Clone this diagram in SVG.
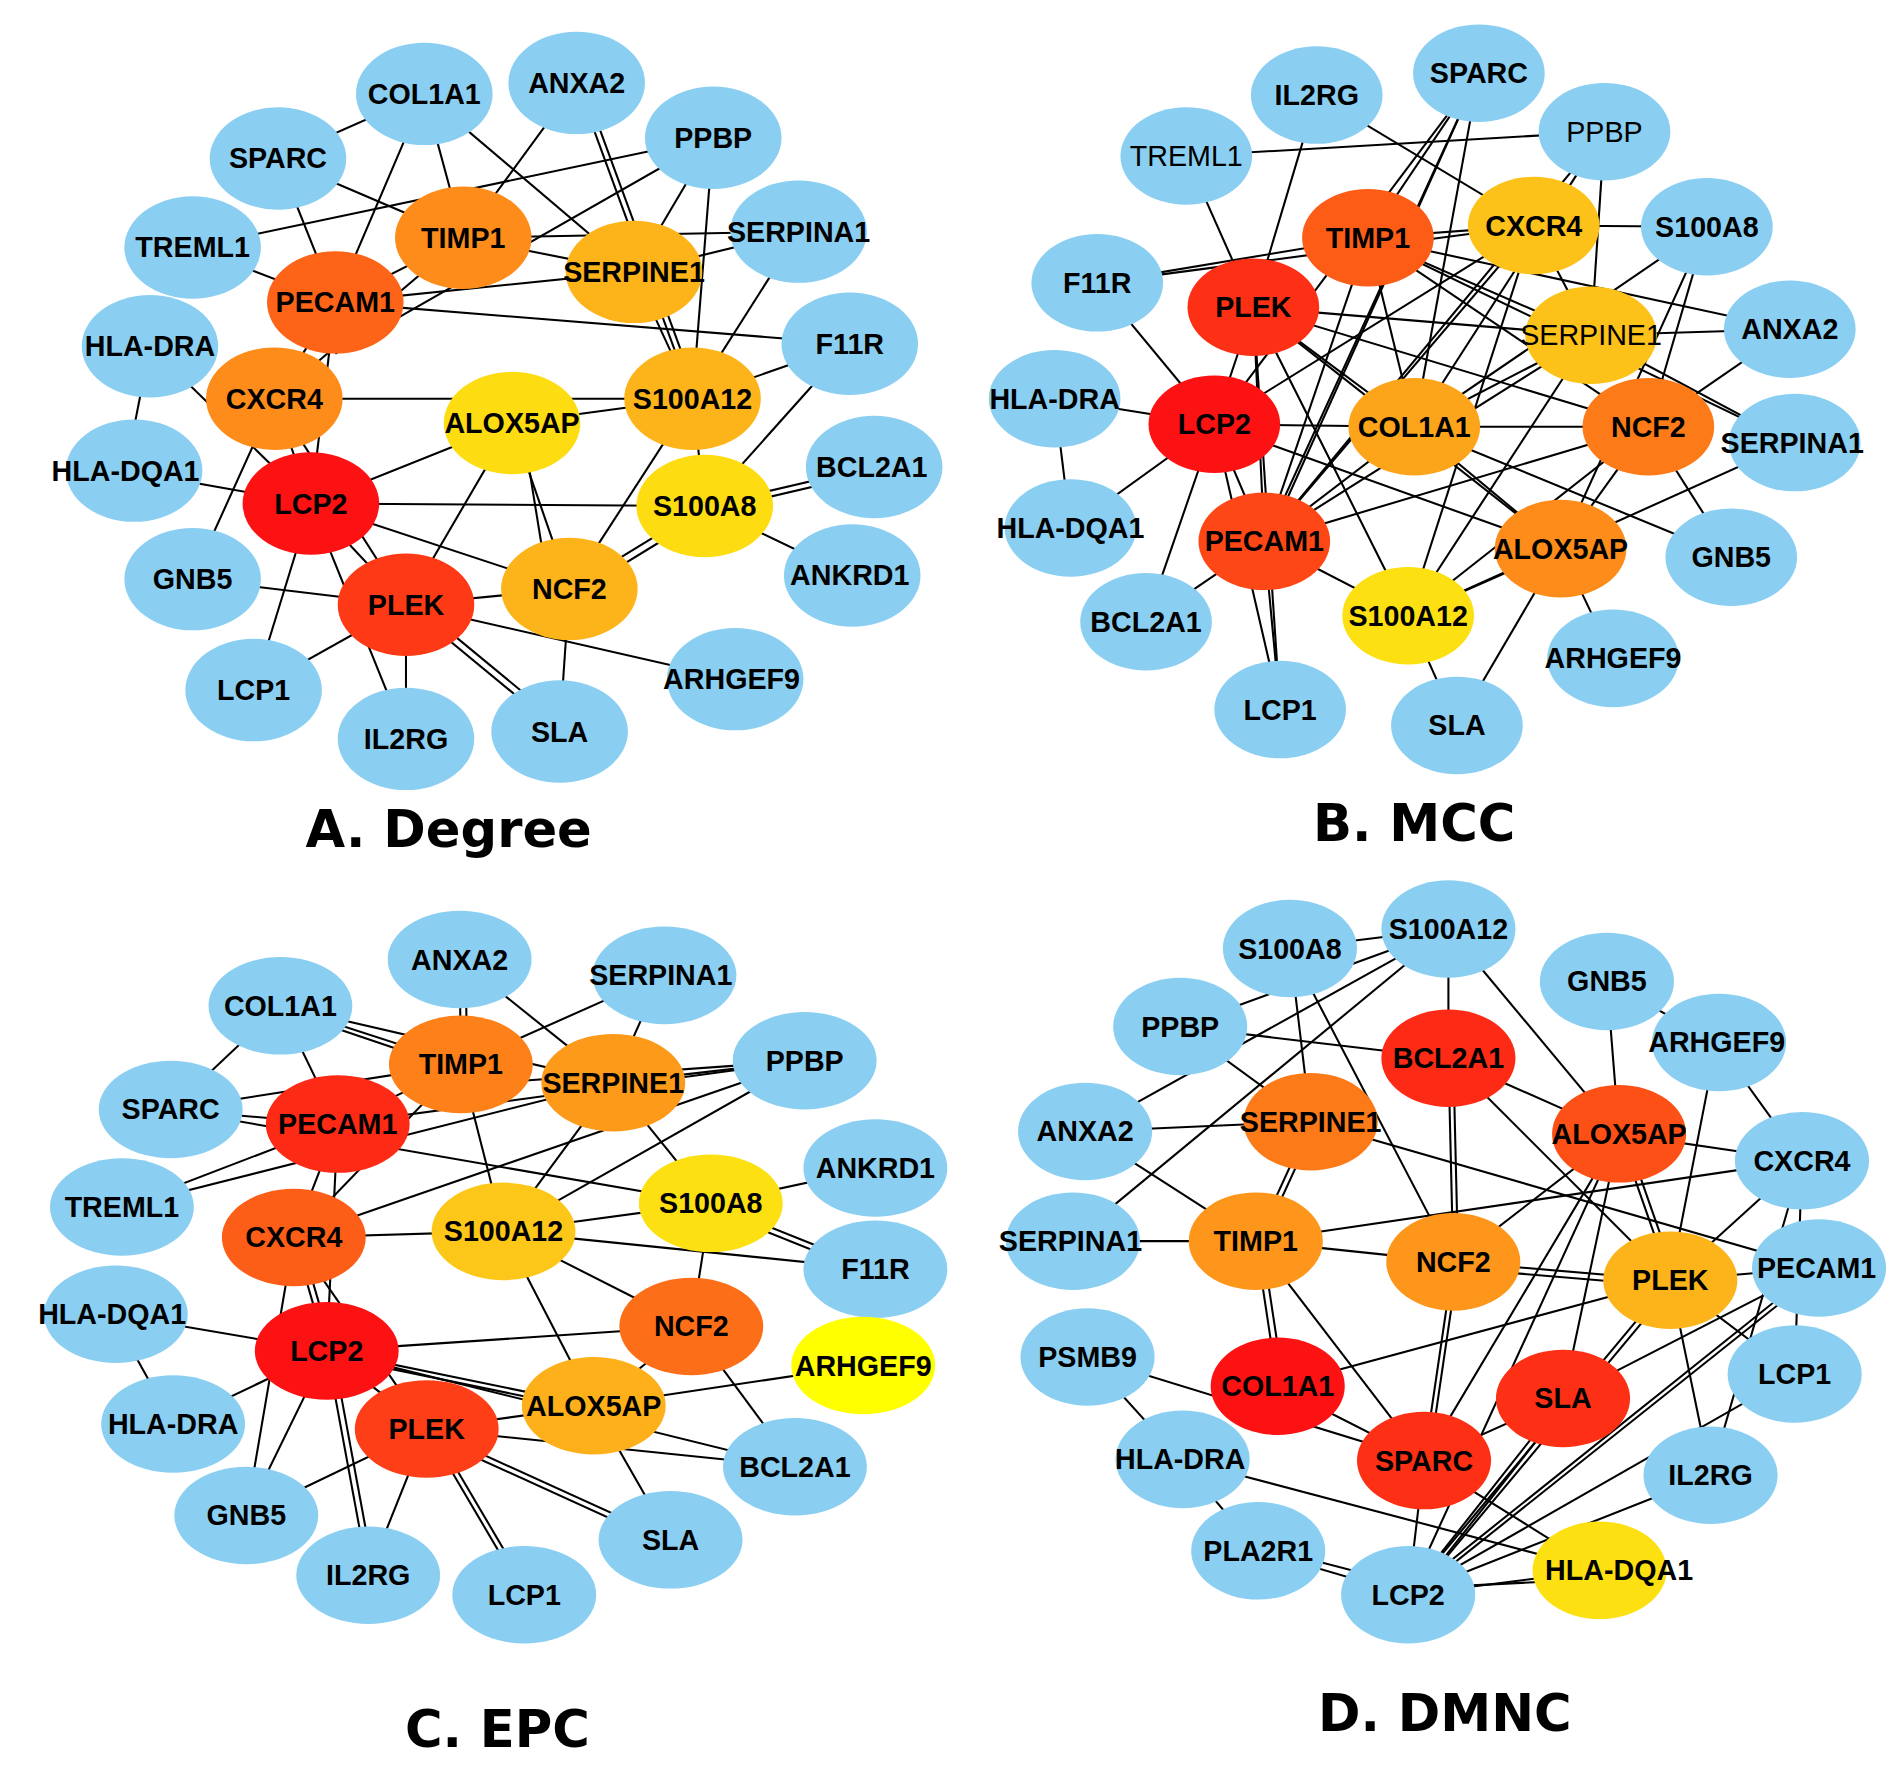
<svg xmlns="http://www.w3.org/2000/svg" width="1902" height="1765" viewBox="0 0 1902 1765">
<style>
.e line{stroke:#000;stroke-width:1.7}
ellipse{stroke:none}
.b{fill:#8acff2}
text{font-family:"Liberation Sans",Arial,sans-serif;font-weight:bold;font-size:23.5px;text-anchor:middle;dominant-baseline:central;fill:#000}
text.n{font-weight:normal}
text.t{font-family:"DejaVu Sans",sans-serif;font-size:42px}
</style>
<rect width="1902" height="1765" fill="#fff"/>
<g transform="scale(1.2192)">
<!-- Panel A edges -->
<g id="edgesA" class="e">
<line x1="228" y1="130" x2="348" y2="77"/><line x1="228" y1="130" x2="380" y2="195"/><line x1="228" y1="130" x2="275" y2="248"/>
<line x1="348" y1="77" x2="275" y2="248"/><line x1="348" y1="77" x2="380" y2="195"/><line x1="348" y1="77" x2="520" y2="223"/>
<line x1="473" y1="68" x2="380" y2="195"/><line x1="473" y1="68" x2="568" y2="327"/><line x1="478" y1="68" x2="573" y2="327"/>
<line x1="585" y1="113" x2="158" y2="203"/><line x1="585" y1="113" x2="275" y2="290"/><line x1="585" y1="113" x2="520" y2="223"/><line x1="585" y1="113" x2="568" y2="327"/>
<line x1="158" y1="203" x2="275" y2="248"/><line x1="380" y1="195" x2="520" y2="223"/><line x1="380" y1="195" x2="655" y2="190"/>
<line x1="275" y1="248" x2="520" y2="223"/><line x1="275" y1="248" x2="697" y2="282"/><line x1="275" y1="248" x2="380" y2="195"/>
<line x1="225" y1="327" x2="275" y2="248"/><line x1="225" y1="327" x2="380" y2="195"/><line x1="225" y1="327" x2="568" y2="327"/>
<line x1="123" y1="284" x2="103" y2="386"/><line x1="123" y1="284" x2="255" y2="413"/><line x1="103" y1="386" x2="255" y2="413"/>
<line x1="225" y1="327" x2="255" y2="413"/><line x1="225" y1="327" x2="333" y2="496"/><line x1="225" y1="327" x2="158" y2="475"/><line x1="275" y1="248" x2="255" y2="413"/>
<line x1="255" y1="413" x2="420" y2="347"/><line x1="255" y1="413" x2="578" y2="415"/><line x1="255" y1="413" x2="467" y2="483"/><line x1="255" y1="413" x2="333" y2="496"/>
<line x1="255" y1="413" x2="208" y2="566"/><line x1="255" y1="413" x2="333" y2="606"/><line x1="158" y1="475" x2="333" y2="496"/>
<line x1="333" y1="496" x2="467" y2="483"/><line x1="333" y1="496" x2="420" y2="347"/><line x1="333" y1="496" x2="208" y2="566"/><line x1="333" y1="496" x2="333" y2="606"/>
<line x1="333" y1="496" x2="459" y2="600"/><line x1="337" y1="492" x2="463" y2="596"/><line x1="333" y1="496" x2="600" y2="557"/>
<line x1="420" y1="347" x2="568" y2="327"/><line x1="420" y1="347" x2="467" y2="483"/><line x1="428" y1="347" x2="450" y2="483"/><line x1="467" y1="483" x2="459" y2="600"/>
<line x1="467" y1="483" x2="578" y2="415"/><line x1="467" y1="490" x2="578" y2="422"/><line x1="467" y1="483" x2="568" y2="327"/>
<line x1="578" y1="415" x2="715" y2="383"/><line x1="578" y1="420" x2="715" y2="388"/><line x1="578" y1="415" x2="697" y2="472"/><line x1="578" y1="415" x2="697" y2="282"/>
<line x1="568" y1="327" x2="697" y2="282"/><line x1="568" y1="327" x2="520" y2="223"/><line x1="568" y1="327" x2="578" y2="415"/><line x1="655" y1="190" x2="568" y2="327"/><line x1="655" y1="190" x2="520" y2="223"/>
</g>
<g id="A_COL1A1"><ellipse class="b" cx="348" cy="77" rx="56" ry="42"/><text x="348" y="77">COL1A1</text></g>
<g id="A_ANXA2"><ellipse class="b" cx="473" cy="68" rx="56" ry="42"/><text x="473" y="68">ANXA2</text></g>
<g id="A_PPBP"><ellipse class="b" cx="585" cy="113" rx="56" ry="42"/><text x="585" y="113">PPBP</text></g>
<g id="A_SPARC"><ellipse class="b" cx="228" cy="130" rx="56" ry="42"/><text x="228" y="130">SPARC</text></g>
<g id="A_SERPINA1"><ellipse class="b" cx="655" cy="190" rx="56" ry="42"/><text x="655" y="190">SERPINA1</text></g>
<g id="A_TREML1"><ellipse class="b" cx="158" cy="203" rx="56" ry="42"/><text x="158" y="203">TREML1</text></g>
<g id="A_F11R"><ellipse class="b" cx="697" cy="282" rx="56" ry="42"/><text x="697" y="282">F11R</text></g>
<g id="A_HLA-DRA"><ellipse class="b" cx="123" cy="284" rx="56" ry="42"/><text x="123" y="284">HLA-DRA</text></g>
<g id="A_HLA-DQA1"><ellipse class="b" cx="110" cy="386" rx="56" ry="42"/><text x="103" y="386">HLA-DQA1</text></g>
<g id="A_BCL2A1"><ellipse class="b" cx="717" cy="383" rx="56" ry="42"/><text x="715" y="383">BCL2A1</text></g>
<g id="A_GNB5"><ellipse class="b" cx="158" cy="475" rx="56" ry="42"/><text x="158" y="475">GNB5</text></g>
<g id="A_ANKRD1"><ellipse class="b" cx="699" cy="472" rx="56" ry="42"/><text x="697" y="472">ANKRD1</text></g>
<g id="A_LCP1"><ellipse class="b" cx="208" cy="566" rx="56" ry="42"/><text x="208" y="566">LCP1</text></g>
<g id="A_ARHGEF9"><ellipse class="b" cx="603" cy="557" rx="56" ry="42"/><text x="600" y="557">ARHGEF9</text></g>
<g id="A_IL2RG"><ellipse class="b" cx="333" cy="606" rx="56" ry="42"/><text x="333" y="606">IL2RG</text></g>
<g id="A_SLA"><ellipse class="b" cx="459" cy="600" rx="56" ry="42"/><text x="459" y="600">SLA</text></g>
<g id="A_TIMP1"><ellipse fill="#fd8c1a" cx="380" cy="195" rx="56" ry="42"/><text x="380" y="195">TIMP1</text></g>
<g id="A_SERPINE1"><ellipse fill="#fdb31a" cx="520" cy="223" rx="56" ry="42"/><text x="520" y="223">SERPINE1</text></g>
<g id="A_PECAM1"><ellipse fill="#fd6418" cx="275" cy="248" rx="56" ry="42"/><text x="275" y="248">PECAM1</text></g>
<g id="A_CXCR4"><ellipse fill="#fd8c1a" cx="225" cy="327" rx="56" ry="42"/><text x="225" y="327">CXCR4</text></g>
<g id="A_S100A12"><ellipse fill="#fdb31a" cx="568" cy="327" rx="56" ry="42"/><text x="568" y="327">S100A12</text></g>
<g id="A_ALOX5AP"><ellipse fill="#fddc12" cx="420" cy="347" rx="56" ry="42"/><text x="420" y="347">ALOX5AP</text></g>
<g id="A_LCP2"><ellipse fill="#fd1214" cx="255" cy="413" rx="56" ry="42"/><text x="255" y="413">LCP2</text></g>
<g id="A_S100A8"><ellipse fill="#fddc12" cx="578" cy="415" rx="56" ry="42"/><text x="578" y="415">S100A8</text></g>
<g id="A_PLEK"><ellipse fill="#fd3a15" cx="333" cy="496" rx="56" ry="42"/><text x="333" y="496">PLEK</text></g>
<g id="A_NCF2"><ellipse fill="#fdb31a" cx="467" cy="483" rx="56" ry="42"/><text x="467" y="483">NCF2</text></g>
<text class="t" x="368" y="680">A. Degree</text>

<!-- Panel B -->
<g id="edgesB" class="e">
<line x1="1080" y1="78" x2="1258" y2="185"/><line x1="1080" y1="78" x2="1028" y2="252"/><line x1="973" y1="128" x2="1316" y2="108"/><line x1="973" y1="128" x2="1028" y2="252"/>
<line x1="1213" y1="60" x2="1122" y2="195"/><line x1="1213" y1="60" x2="1037" y2="444"/><line x1="1213" y1="60" x2="1160" y2="350"/><line x1="1213" y1="60" x2="1040" y2="444"/><line x1="1213" y1="60" x2="996" y2="348"/>
<line x1="1316" y1="108" x2="1037" y2="444"/><line x1="1316" y1="108" x2="1160" y2="350"/><line x1="1316" y1="108" x2="1305" y2="275"/>
<line x1="1122" y1="195" x2="1258" y2="185"/><line x1="1122" y1="195" x2="900" y2="232"/><line x1="1258" y1="185" x2="900" y2="232"/><line x1="1258" y1="185" x2="1400" y2="186"/>
<line x1="1258" y1="185" x2="1305" y2="275"/><line x1="1258" y1="185" x2="996" y2="348"/><line x1="1258" y1="185" x2="1037" y2="444"/><line x1="1258" y1="185" x2="1155" y2="505"/>
<line x1="1122" y1="195" x2="1305" y2="275"/><line x1="1122" y1="195" x2="1468" y2="270"/><line x1="1122" y1="195" x2="1352" y2="350"/><line x1="1122" y1="195" x2="1160" y2="350"/>
<line x1="1122" y1="195" x2="1037" y2="444"/><line x1="1122" y1="195" x2="1470" y2="363"/><line x1="900" y1="232" x2="996" y2="348"/>
<line x1="1028" y1="252" x2="996" y2="348"/><line x1="1028" y1="252" x2="1160" y2="350"/><line x1="1028" y1="252" x2="1352" y2="350"/><line x1="1028" y1="252" x2="1305" y2="275"/>
<line x1="1028" y1="252" x2="1280" y2="450"/><line x1="1028" y1="252" x2="1155" y2="505"/><line x1="1028" y1="252" x2="1037" y2="444"/><line x1="1028" y1="252" x2="1050" y2="582"/>
<line x1="865" y1="327" x2="996" y2="348"/><line x1="865" y1="327" x2="878" y2="433"/><line x1="878" y1="433" x2="996" y2="348"/>
<line x1="996" y1="348" x2="1160" y2="350"/><line x1="996" y1="348" x2="1037" y2="444"/><line x1="996" y1="348" x2="940" y2="510"/><line x1="996" y1="348" x2="1280" y2="450"/><line x1="996" y1="348" x2="1050" y2="582"/>
<line x1="1160" y1="350" x2="1352" y2="350"/><line x1="1160" y1="350" x2="1305" y2="275"/><line x1="1160" y1="350" x2="1037" y2="444"/><line x1="1160" y1="350" x2="1280" y2="450"/><line x1="1160" y1="350" x2="1420" y2="457"/>
<line x1="1305" y1="275" x2="1468" y2="270"/><line x1="1305" y1="275" x2="1155" y2="505"/><line x1="1305" y1="275" x2="1470" y2="363"/><line x1="1305" y1="275" x2="1037" y2="444"/>
<line x1="1400" y1="186" x2="1352" y2="350"/><line x1="1400" y1="186" x2="1280" y2="450"/><line x1="1400" y1="186" x2="1160" y2="350"/>
<line x1="1468" y1="270" x2="1352" y2="350"/><line x1="1352" y1="350" x2="1037" y2="444"/><line x1="1352" y1="350" x2="1420" y2="457"/><line x1="1352" y1="350" x2="1155" y2="505"/><line x1="1352" y1="350" x2="1280" y2="450"/>
<line x1="1470" y1="363" x2="1155" y2="505"/><line x1="1037" y1="444" x2="940" y2="510"/><line x1="1037" y1="444" x2="1155" y2="505"/><line x1="1037" y1="444" x2="1050" y2="582"/>
<line x1="1280" y1="450" x2="1155" y2="505"/><line x1="1280" y1="450" x2="1323" y2="540"/><line x1="1280" y1="450" x2="1195" y2="595"/><line x1="1155" y1="505" x2="1195" y2="595"/>
</g>
<g id="B_IL2RG"><ellipse class="b" cx="1080" cy="78" rx="54" ry="40"/><text x="1080" y="78">IL2RG</text></g>
<g id="B_SPARC"><ellipse class="b" cx="1213" cy="60" rx="54" ry="40"/><text x="1213" y="60">SPARC</text></g>
<g id="B_TREML1"><ellipse class="b" cx="973" cy="128" rx="54" ry="40"/><text class="n" x="973" y="128">TREML1</text></g>
<g id="B_PPBP"><ellipse class="b" cx="1316" cy="108" rx="54" ry="40"/><text class="n" x="1316" y="108">PPBP</text></g>
<g id="B_S100A8"><ellipse class="b" cx="1400" cy="186" rx="54" ry="40"/><text x="1400" y="186">S100A8</text></g>
<g id="B_F11R"><ellipse class="b" cx="900" cy="232" rx="54" ry="40"/><text x="900" y="232">F11R</text></g>
<g id="B_ANXA2"><ellipse class="b" cx="1468" cy="270" rx="54" ry="40"/><text x="1468" y="270">ANXA2</text></g>
<g id="B_HLA-DRA"><ellipse class="b" cx="865" cy="327" rx="54" ry="40"/><text x="865" y="327">HLA-DRA</text></g>
<g id="B_SERPINA1"><ellipse class="b" cx="1472" cy="363" rx="54" ry="40"/><text x="1470" y="363">SERPINA1</text></g>
<g id="B_HLA-DQA1"><ellipse class="b" cx="878" cy="433" rx="54" ry="40"/><text x="878" y="433">HLA-DQA1</text></g>
<g id="B_GNB5"><ellipse class="b" cx="1420" cy="457" rx="54" ry="40"/><text x="1420" y="457">GNB5</text></g>
<g id="B_BCL2A1"><ellipse class="b" cx="940" cy="510" rx="54" ry="40"/><text x="940" y="510">BCL2A1</text></g>
<g id="B_ARHGEF9"><ellipse class="b" cx="1323" cy="540" rx="54" ry="40"/><text x="1323" y="540">ARHGEF9</text></g>
<g id="B_LCP1"><ellipse class="b" cx="1050" cy="582" rx="54" ry="40"/><text x="1050" y="582">LCP1</text></g>
<g id="B_SLA"><ellipse class="b" cx="1195" cy="595" rx="54" ry="40"/><text x="1195" y="595">SLA</text></g>
<g id="B_TIMP1"><ellipse fill="#fd5c17" cx="1122" cy="195" rx="54" ry="40"/><text x="1122" y="195">TIMP1</text></g>
<g id="B_CXCR4"><ellipse fill="#fdc21a" cx="1258" cy="185" rx="54" ry="40"/><text x="1258" y="185">CXCR4</text></g>
<g id="B_PLEK"><ellipse fill="#fd2f15" cx="1028" cy="252" rx="54" ry="40"/><text x="1028" y="252">PLEK</text></g>
<g id="B_SERPINE1"><ellipse fill="#fdc21a" cx="1305" cy="275" rx="54" ry="40"/><text class="n" x="1305" y="275">SERPINE1</text></g>
<g id="B_LCP2"><ellipse fill="#fd1214" cx="996" cy="348" rx="54" ry="40"/><text x="996" y="348">LCP2</text></g>
<g id="B_COL1A1"><ellipse fill="#fda51a" cx="1160" cy="350" rx="54" ry="40"/><text x="1160" y="350">COL1A1</text></g>
<g id="B_NCF2"><ellipse fill="#fd7a19" cx="1352" cy="350" rx="54" ry="40"/><text x="1352" y="350">NCF2</text></g>
<g id="B_PECAM1"><ellipse fill="#fd4716" cx="1037" cy="444" rx="54" ry="40"/><text x="1037" y="444">PECAM1</text></g>
<g id="B_ALOX5AP"><ellipse fill="#fd8c1a" cx="1280" cy="450" rx="54" ry="40"/><text x="1280" y="450">ALOX5AP</text></g>
<g id="B_S100A12"><ellipse fill="#fde012" cx="1155" cy="505" rx="54" ry="40"/><text x="1155" y="505">S100A12</text></g>
<text class="t" x="1160" y="675">B. MCC</text>

<!-- Panel C -->
<g id="edgesC" class="e">
<line x1="230" y1="825" x2="140" y2="910"/><line x1="230" y1="825" x2="378" y2="873"/><line x1="230" y1="828" x2="378" y2="878"/><line x1="230" y1="825" x2="277" y2="922"/><line x1="230" y1="825" x2="503" y2="888"/>
<line x1="377" y1="787" x2="378" y2="873"/><line x1="382" y1="787" x2="383" y2="873"/><line x1="377" y1="787" x2="503" y2="888"/>
<line x1="542" y1="800" x2="378" y2="873"/><line x1="542" y1="800" x2="503" y2="888"/>
<line x1="140" y1="910" x2="378" y2="873"/><line x1="140" y1="910" x2="277" y2="922"/><line x1="140" y1="910" x2="583" y2="987"/>
<line x1="660" y1="870" x2="503" y2="888"/><line x1="660" y1="870" x2="277" y2="922"/><line x1="660" y1="870" x2="378" y2="890"/><line x1="660" y1="870" x2="241" y2="1015"/><line x1="660" y1="870" x2="413" y2="1010"/>
<line x1="100" y1="990" x2="277" y2="922"/><line x1="100" y1="990" x2="503" y2="888"/>
<line x1="277" y1="922" x2="241" y2="1015"/><line x1="277" y1="922" x2="268" y2="1108"/><line x1="277" y1="922" x2="378" y2="873"/>
<line x1="378" y1="873" x2="413" y2="1010"/><line x1="378" y1="873" x2="241" y2="1015"/><line x1="503" y1="888" x2="413" y2="1010"/><line x1="503" y1="888" x2="583" y2="987"/>
<line x1="583" y1="987" x2="718" y2="958"/><line x1="583" y1="987" x2="718" y2="1041"/><line x1="583" y1="992" x2="718" y2="1046"/><line x1="583" y1="987" x2="567" y2="1088"/><line x1="583" y1="987" x2="413" y2="1010"/>
<line x1="241" y1="1015" x2="413" y2="1010"/><line x1="241" y1="1015" x2="268" y2="1108"/><line x1="246" y1="1015" x2="273" y2="1108"/><line x1="241" y1="1015" x2="350" y2="1172"/><line x1="241" y1="1015" x2="202" y2="1243"/>
<line x1="413" y1="1010" x2="718" y2="1041"/><line x1="413" y1="1010" x2="567" y2="1088"/><line x1="413" y1="1010" x2="487" y2="1153"/>
<line x1="92" y1="1078" x2="268" y2="1108"/><line x1="92" y1="1078" x2="142" y2="1168"/><line x1="142" y1="1168" x2="268" y2="1108"/>
<line x1="268" y1="1108" x2="567" y2="1088"/><line x1="268" y1="1108" x2="487" y2="1153"/><line x1="268" y1="1112" x2="487" y2="1157"/><line x1="268" y1="1108" x2="652" y2="1203"/>
<line x1="268" y1="1108" x2="350" y2="1172"/><line x1="268" y1="1108" x2="202" y2="1243"/><line x1="268" y1="1108" x2="302" y2="1292"/><line x1="273" y1="1108" x2="307" y2="1292"/>
<line x1="567" y1="1088" x2="487" y2="1153"/><line x1="567" y1="1088" x2="652" y2="1203"/><line x1="487" y1="1153" x2="708" y2="1120"/><line x1="487" y1="1153" x2="550" y2="1263"/><line x1="487" y1="1153" x2="350" y2="1172"/>
<line x1="350" y1="1172" x2="652" y2="1203"/><line x1="350" y1="1172" x2="550" y2="1263"/><line x1="350" y1="1177" x2="550" y2="1268"/><line x1="350" y1="1172" x2="202" y2="1243"/><line x1="350" y1="1172" x2="302" y2="1292"/>
<line x1="350" y1="1172" x2="430" y2="1308"/><line x1="355" y1="1172" x2="435" y2="1308"/>
</g>
<g id="C_ANXA2"><ellipse class="b" cx="377" cy="787" rx="59" ry="40"/><text x="377" y="787">ANXA2</text></g>
<g id="C_SERPINA1"><ellipse class="b" cx="545" cy="800" rx="59" ry="40"/><text x="542" y="800">SERPINA1</text></g>
<g id="C_COL1A1"><ellipse class="b" cx="230" cy="825" rx="59" ry="40"/><text x="230" y="825">COL1A1</text></g>
<g id="C_PPBP"><ellipse class="b" cx="660" cy="870" rx="59" ry="40"/><text x="660" y="870">PPBP</text></g>
<g id="C_SPARC"><ellipse class="b" cx="140" cy="910" rx="59" ry="40"/><text x="140" y="910">SPARC</text></g>
<g id="C_TREML1"><ellipse class="b" cx="100" cy="990" rx="59" ry="40"/><text x="100" y="990">TREML1</text></g>
<g id="C_ANKRD1"><ellipse class="b" cx="718" cy="958" rx="59" ry="40"/><text x="718" y="958">ANKRD1</text></g>
<g id="C_F11R"><ellipse class="b" cx="718" cy="1041" rx="59" ry="40"/><text x="718" y="1041">F11R</text></g>
<g id="C_HLA-DQA1"><ellipse class="b" cx="95" cy="1078" rx="59" ry="40"/><text x="92" y="1078">HLA-DQA1</text></g>
<g id="C_HLA-DRA"><ellipse class="b" cx="142" cy="1168" rx="59" ry="40"/><text x="142" y="1168">HLA-DRA</text></g>
<g id="C_BCL2A1"><ellipse class="b" cx="652" cy="1203" rx="59" ry="40"/><text x="652" y="1203">BCL2A1</text></g>
<g id="C_GNB5"><ellipse class="b" cx="202" cy="1243" rx="59" ry="40"/><text x="202" y="1243">GNB5</text></g>
<g id="C_SLA"><ellipse class="b" cx="550" cy="1263" rx="59" ry="40"/><text x="550" y="1263">SLA</text></g>
<g id="C_IL2RG"><ellipse class="b" cx="302" cy="1292" rx="59" ry="40"/><text x="302" y="1292">IL2RG</text></g>
<g id="C_LCP1"><ellipse class="b" cx="430" cy="1308" rx="59" ry="40"/><text x="430" y="1308">LCP1</text></g>
<g id="C_TIMP1"><ellipse fill="#fd8019" cx="378" cy="873" rx="59" ry="40"/><text x="378" y="873">TIMP1</text></g>
<g id="C_SERPINE1"><ellipse fill="#fd9a1a" cx="503" cy="888" rx="59" ry="40"/><text x="503" y="888">SERPINE1</text></g>
<g id="C_PECAM1"><ellipse fill="#fd2a15" cx="277" cy="922" rx="59" ry="40"/><text x="277" y="922">PECAM1</text></g>
<g id="C_S100A8"><ellipse fill="#fde012" cx="583" cy="987" rx="59" ry="40"/><text x="583" y="987">S100A8</text></g>
<g id="C_CXCR4"><ellipse fill="#fd5e17" cx="241" cy="1015" rx="59" ry="40"/><text x="241" y="1015">CXCR4</text></g>
<g id="C_S100A12"><ellipse fill="#fdc71a" cx="413" cy="1010" rx="59" ry="40"/><text x="413" y="1010">S100A12</text></g>
<g id="C_NCF2"><ellipse fill="#fd6e18" cx="567" cy="1088" rx="59" ry="40"/><text x="567" y="1088">NCF2</text></g>
<g id="C_ARHGEF9"><ellipse fill="#ffff00" cx="708" cy="1120" rx="59" ry="40"/><text x="708" y="1120">ARHGEF9</text></g>
<g id="C_LCP2"><ellipse fill="#fd1214" cx="268" cy="1108" rx="59" ry="40"/><text x="268" y="1108">LCP2</text></g>
<g id="C_ALOX5AP"><ellipse fill="#fdb01a" cx="487" cy="1153" rx="59" ry="40"/><text x="487" y="1153">ALOX5AP</text></g>
<g id="C_PLEK"><ellipse fill="#fd3e16" cx="350" cy="1172" rx="59" ry="40"/><text x="350" y="1172">PLEK</text></g>
<text class="t" x="408" y="1418">C. EPC</text>

<!-- Panel D -->
<g id="edgesD" class="e">
<line x1="1058" y1="778" x2="1188" y2="762"/><line x1="1188" y1="762" x2="968" y2="842"/><line x1="1188" y1="762" x2="890" y2="928"/><line x1="1188" y1="762" x2="878" y2="1018"/>
<line x1="1188" y1="762" x2="1188" y2="868"/><line x1="1188" y1="762" x2="1328" y2="930"/><line x1="1058" y1="778" x2="1075" y2="920"/><line x1="1058" y1="778" x2="1192" y2="1035"/>
<line x1="968" y1="842" x2="1075" y2="920"/><line x1="968" y1="842" x2="1188" y2="868"/><line x1="890" y1="928" x2="1075" y2="920"/><line x1="890" y1="928" x2="1030" y2="1018"/>
<line x1="878" y1="1018" x2="1030" y2="1018"/><line x1="1075" y1="920" x2="1030" y2="1018"/><line x1="1080" y1="920" x2="1035" y2="1018"/><line x1="1075" y1="920" x2="1490" y2="1040"/>
<line x1="1188" y1="868" x2="1192" y2="1035"/><line x1="1192" y1="868" x2="1196" y2="1035"/><line x1="1188" y1="868" x2="1328" y2="930"/><line x1="1188" y1="868" x2="1370" y2="1050"/>
<line x1="1318" y1="805" x2="1408" y2="855"/><line x1="1318" y1="805" x2="1328" y2="930"/><line x1="1408" y1="855" x2="1370" y2="1050"/><line x1="1408" y1="855" x2="1478" y2="952"/>
<line x1="1328" y1="930" x2="1478" y2="952"/><line x1="1328" y1="930" x2="1192" y2="1035"/><line x1="1328" y1="930" x2="1370" y2="1050"/><line x1="1333" y1="930" x2="1375" y2="1050"/>
<line x1="1328" y1="930" x2="1282" y2="1147"/><line x1="1328" y1="930" x2="1168" y2="1198"/><line x1="1328" y1="930" x2="1155" y2="1308"/>
<line x1="1478" y1="952" x2="1030" y2="1018"/><line x1="1478" y1="952" x2="1370" y2="1050"/><line x1="1478" y1="952" x2="1472" y2="1127"/><line x1="1478" y1="952" x2="1403" y2="1210"/>
<line x1="1030" y1="1018" x2="1192" y2="1035"/><line x1="1030" y1="1018" x2="1048" y2="1137"/><line x1="1035" y1="1018" x2="1053" y2="1137"/><line x1="1030" y1="1018" x2="1168" y2="1198"/>
<line x1="1192" y1="1035" x2="1370" y2="1050"/><line x1="1192" y1="1040" x2="1370" y2="1055"/><line x1="1192" y1="1035" x2="1168" y2="1198"/><line x1="1196" y1="1035" x2="1172" y2="1198"/>
<line x1="1370" y1="1050" x2="1490" y2="1040"/><line x1="1370" y1="1050" x2="1048" y2="1137"/><line x1="1370" y1="1050" x2="1155" y2="1308"/><line x1="1374" y1="1052" x2="1159" y2="1310"/>
<line x1="1370" y1="1050" x2="1403" y2="1210"/><line x1="1370" y1="1050" x2="1472" y2="1127"/>
<line x1="1490" y1="1040" x2="1282" y2="1147"/><line x1="1490" y1="1040" x2="1155" y2="1308"/><line x1="1490" y1="1045" x2="1155" y2="1312"/>
<line x1="1282" y1="1147" x2="1168" y2="1198"/><line x1="1282" y1="1147" x2="1155" y2="1308"/><line x1="1286" y1="1149" x2="1159" y2="1310"/>
<line x1="1168" y1="1198" x2="1048" y2="1137"/><line x1="1168" y1="1198" x2="1155" y2="1308"/><line x1="1168" y1="1198" x2="1312" y2="1288"/>
<line x1="892" y1="1113" x2="968" y2="1197"/><line x1="892" y1="1113" x2="1168" y2="1198"/><line x1="968" y1="1197" x2="1032" y2="1272"/><line x1="968" y1="1197" x2="1312" y2="1288"/>
<line x1="1032" y1="1272" x2="1155" y2="1308"/><line x1="1032" y1="1268" x2="1155" y2="1300"/><line x1="1403" y1="1210" x2="1155" y2="1308"/>
<line x1="1155" y1="1308" x2="1312" y2="1288"/><line x1="1155" y1="1303" x2="1312" y2="1295"/><line x1="1472" y1="1127" x2="1155" y2="1308"/>
</g>
<g id="D_S100A8"><ellipse class="b" cx="1058" cy="778" rx="55" ry="40"/><text x="1058" y="778">S100A8</text></g>
<g id="D_S100A12"><ellipse class="b" cx="1188" cy="762" rx="55" ry="40"/><text x="1188" y="762">S100A12</text></g>
<g id="D_GNB5"><ellipse class="b" cx="1318" cy="805" rx="55" ry="40"/><text x="1318" y="805">GNB5</text></g>
<g id="D_PPBP"><ellipse class="b" cx="968" cy="842" rx="55" ry="40"/><text x="968" y="842">PPBP</text></g>
<g id="D_ARHGEF9"><ellipse class="b" cx="1410" cy="855" rx="55" ry="40"/><text x="1408" y="855">ARHGEF9</text></g>
<g id="D_ANXA2"><ellipse class="b" cx="890" cy="928" rx="55" ry="40"/><text x="890" y="928">ANXA2</text></g>
<g id="D_CXCR4"><ellipse class="b" cx="1478" cy="952" rx="55" ry="40"/><text x="1478" y="952">CXCR4</text></g>
<g id="D_SERPINA1"><ellipse class="b" cx="880" cy="1018" rx="55" ry="40"/><text x="878" y="1018">SERPINA1</text></g>
<g id="D_PECAM1"><ellipse class="b" cx="1492" cy="1040" rx="55" ry="40"/><text x="1490" y="1040">PECAM1</text></g>
<g id="D_PSMB9"><ellipse class="b" cx="892" cy="1113" rx="55" ry="40"/><text x="892" y="1113">PSMB9</text></g>
<g id="D_LCP1"><ellipse class="b" cx="1472" cy="1127" rx="55" ry="40"/><text x="1472" y="1127">LCP1</text></g>
<g id="D_HLA-DRA"><ellipse class="b" cx="970" cy="1197" rx="55" ry="40"/><text x="968" y="1197">HLA-DRA</text></g>
<g id="D_IL2RG"><ellipse class="b" cx="1403" cy="1210" rx="55" ry="40"/><text x="1403" y="1210">IL2RG</text></g>
<g id="D_PLA2R1"><ellipse class="b" cx="1032" cy="1272" rx="55" ry="40"/><text x="1032" y="1272">PLA2R1</text></g>
<g id="D_LCP2"><ellipse class="b" cx="1155" cy="1308" rx="55" ry="40"/><text x="1155" y="1308">LCP2</text></g>
<g id="D_HLA-DQA1"><ellipse fill="#fde012" cx="1312" cy="1288" rx="55" ry="40"/><text x="1328" y="1288">HLA-DQA1</text></g>
<g id="D_BCL2A1"><ellipse fill="#fd2a15" cx="1188" cy="868" rx="55" ry="40"/><text x="1188" y="868">BCL2A1</text></g>
<g id="D_SERPINE1"><ellipse fill="#fd7a19" cx="1075" cy="920" rx="55" ry="40"/><text x="1075" y="920">SERPINE1</text></g>
<g id="D_ALOX5AP"><ellipse fill="#fd5016" cx="1328" cy="930" rx="55" ry="40"/><text x="1328" y="930">ALOX5AP</text></g>
<g id="D_TIMP1"><ellipse fill="#fd961a" cx="1030" cy="1018" rx="55" ry="40"/><text x="1030" y="1018">TIMP1</text></g>
<g id="D_NCF2"><ellipse fill="#fd961a" cx="1192" cy="1035" rx="55" ry="40"/><text x="1192" y="1035">NCF2</text></g>
<g id="D_PLEK"><ellipse fill="#fdb41a" cx="1370" cy="1050" rx="55" ry="40"/><text x="1370" y="1050">PLEK</text></g>
<g id="D_COL1A1"><ellipse fill="#fd1214" cx="1048" cy="1137" rx="55" ry="40"/><text x="1048" y="1137">COL1A1</text></g>
<g id="D_SLA"><ellipse fill="#fd3015" cx="1282" cy="1147" rx="55" ry="40"/><text x="1282" y="1147">SLA</text></g>
<g id="D_SPARC"><ellipse fill="#fd3015" cx="1168" cy="1198" rx="55" ry="40"/><text x="1168" y="1198">SPARC</text></g>
<text class="t" x="1185" y="1405">D. DMNC</text>
</g>
</svg>
